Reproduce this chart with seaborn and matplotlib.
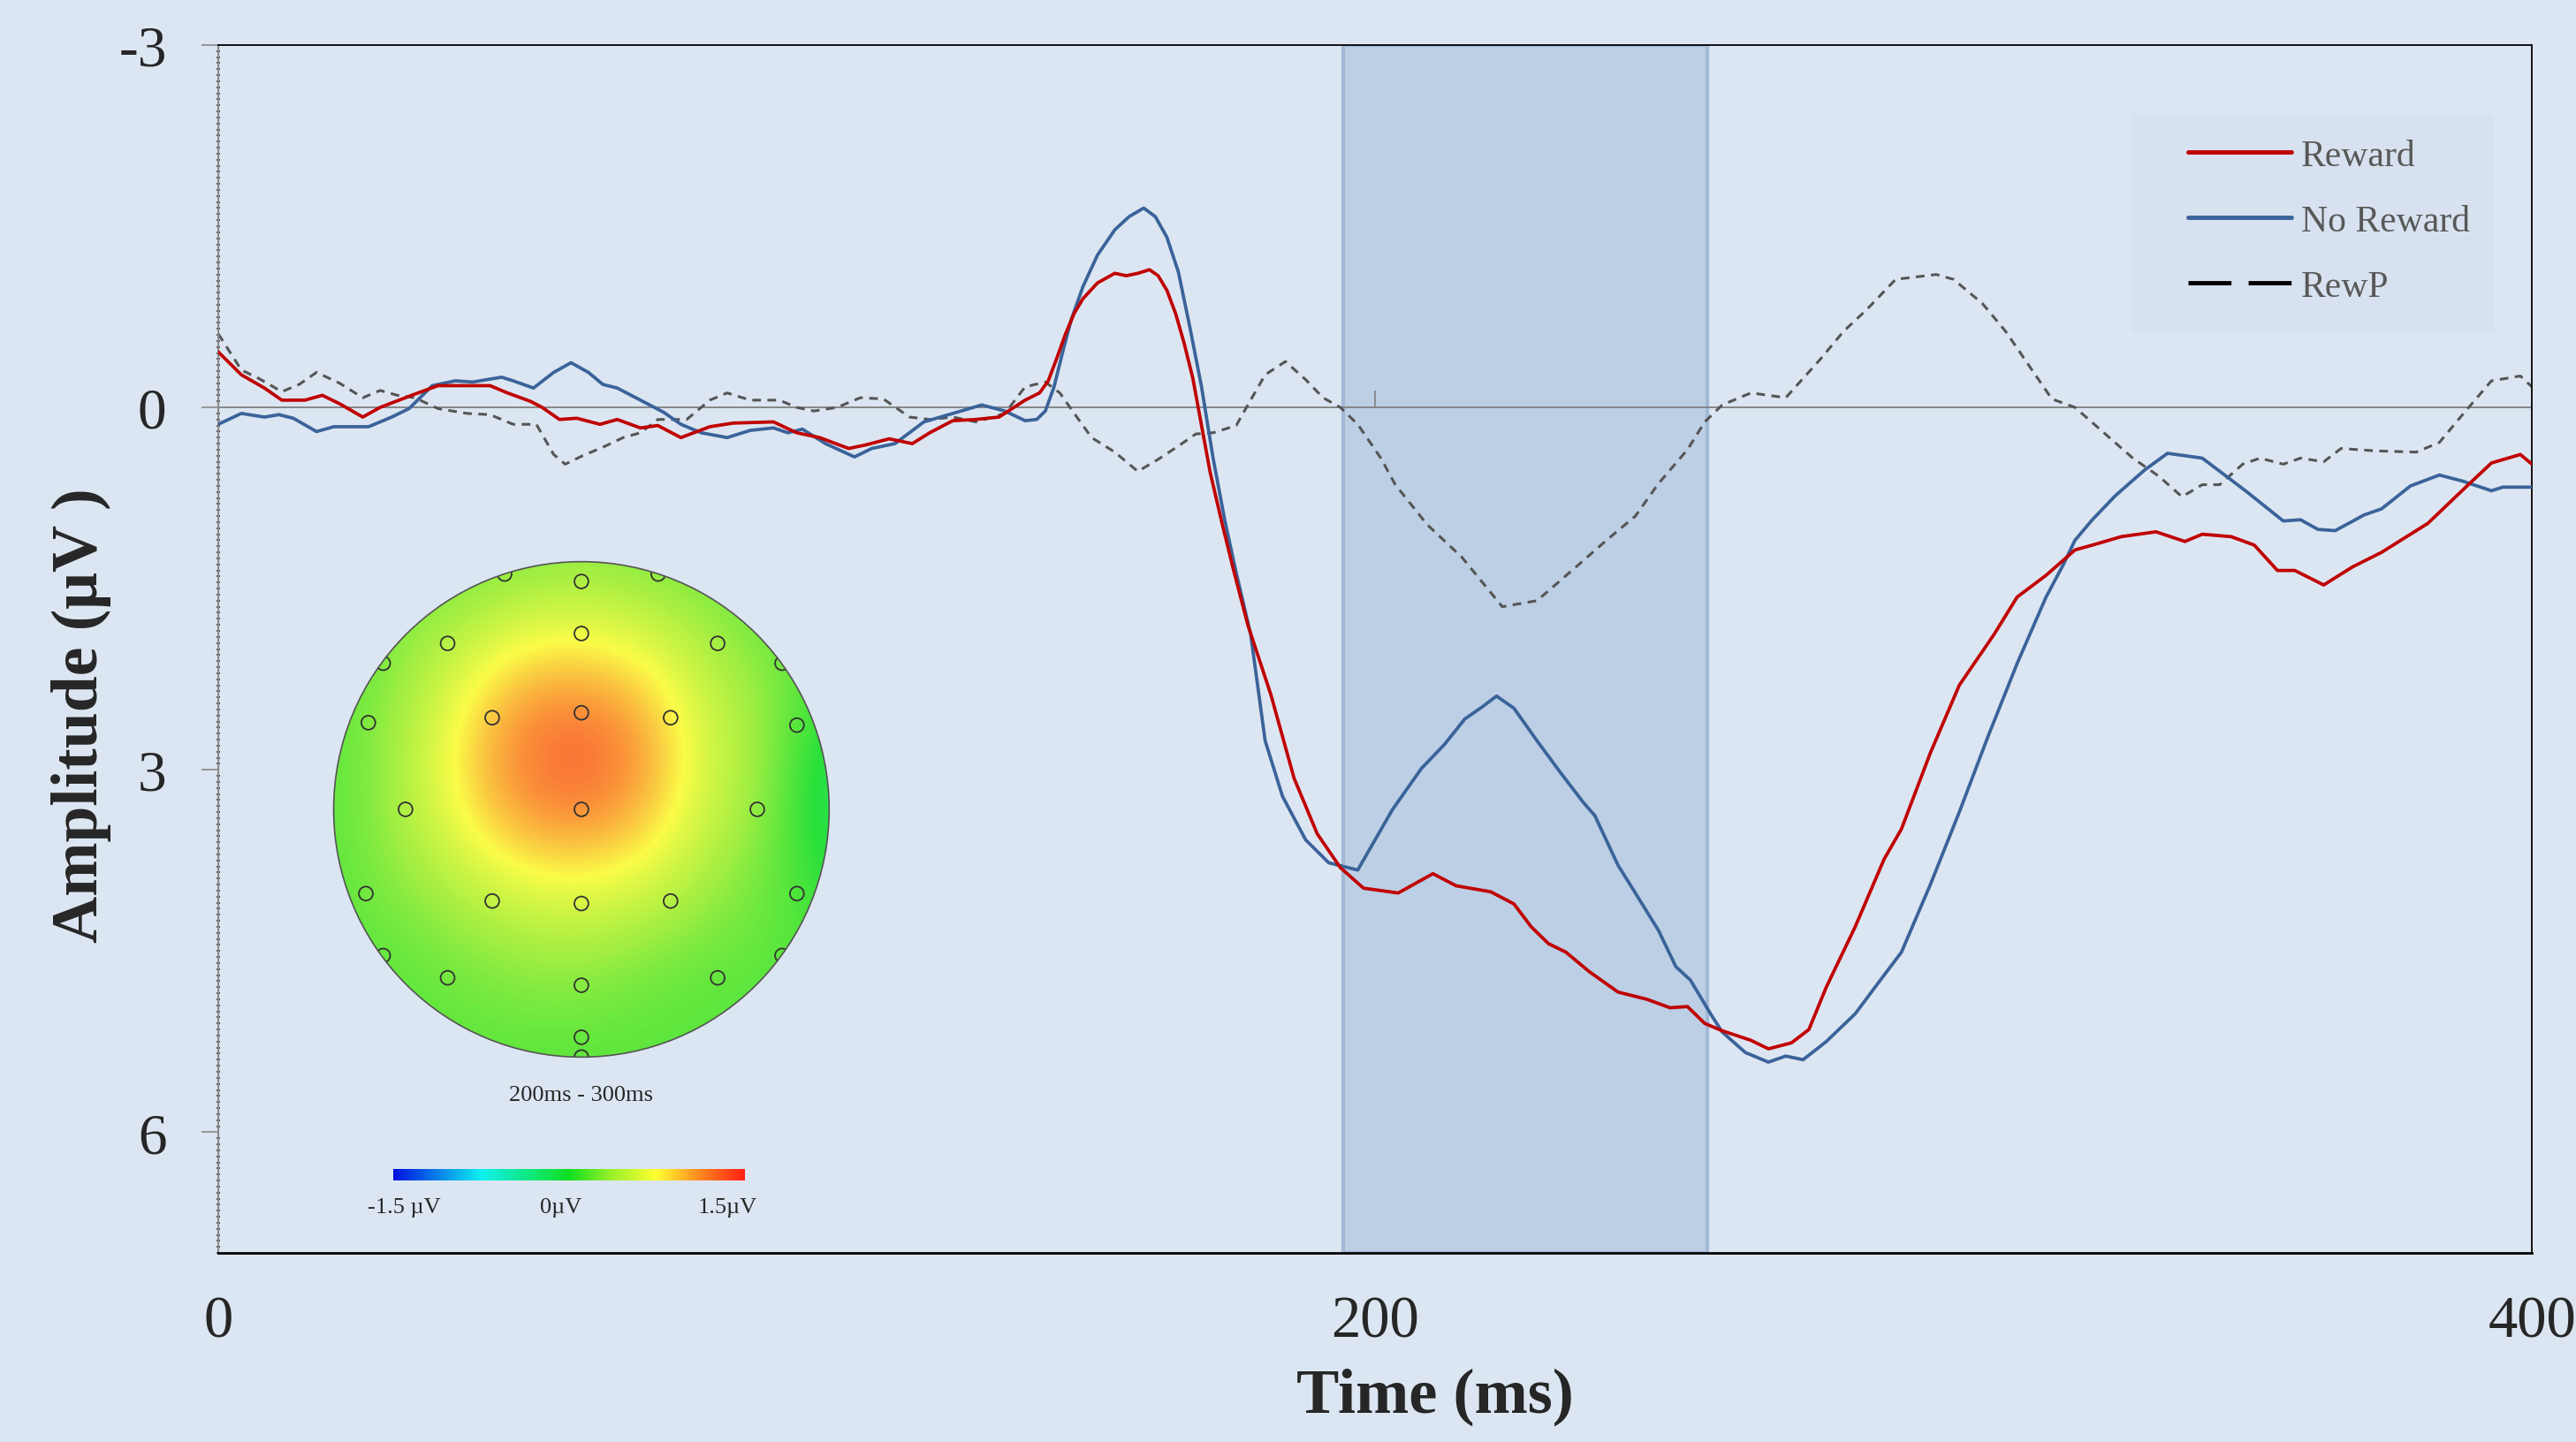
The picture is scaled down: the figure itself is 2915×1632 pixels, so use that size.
import numpy as np
import matplotlib
matplotlib.use("Agg")
import matplotlib.pyplot as plt
import matplotlib.ticker as mticker
from matplotlib.colors import LinearSegmentedColormap, Normalize
from matplotlib.cm import ScalarMappable
from matplotlib.lines import Line2D
from matplotlib.patches import Circle, Rectangle
import seaborn as sns

# ── Data ─────────────────────────────────────────────────────────────────
reward_t = [0, 4, 8, 11, 15, 18, 21, 25, 28, 34, 38, 43, 47, 50, 54, 56, 59, 62, 66, 69,
            73, 76, 80, 85, 89, 96, 100, 104, 109, 112, 116, 120, 123, 127, 131, 135, 139.5,
            142, 143.5, 145, 146.5, 148, 149.5, 152, 155, 157, 159, 161, 162.5, 164, 165.5,
            167, 168.5, 170, 171.5, 173.5, 175.5, 178, 182, 186, 190,
            194, 198, 204, 210, 214, 220, 224, 227, 230, 233, 237, 242, 247, 251, 254, 257,
            260, 265, 268, 272, 275, 278, 283, 288, 291, 296, 301, 304, 307, 311, 316, 321,
            324, 329, 335, 340, 343, 348, 352, 356, 359, 364, 369, 374, 382, 389, 393, 398, 400]
reward_uv = [-0.46, -0.27, -0.16, -0.06, -0.06, -0.10, -0.03, 0.08, 0.0, -0.11, -0.18, -0.18,
             -0.18, -0.12, -0.05, 0.0, 0.10, 0.09, 0.14, 0.10, 0.17, 0.15, 0.25, 0.16, 0.13,
             0.12, 0.21, 0.25, 0.34, 0.31, 0.26, 0.30, 0.21, 0.11, 0.10, 0.08, -0.06,
             -0.12, -0.22, -0.41, -0.61, -0.78, -0.90, -1.03, -1.11, -1.09, -1.11, -1.14, -1.09,
             -0.97, -0.78, -0.53, -0.24, 0.15, 0.54, 0.95, 1.34, 1.80,
             2.38, 3.07, 3.53, 3.81, 3.98, 4.02, 3.86, 3.96, 4.01, 4.11, 4.30, 4.44, 4.51,
             4.67, 4.84, 4.90, 4.97, 4.96, 5.10, 5.16, 5.24, 5.31, 5.26, 5.15, 4.80, 4.30,
             3.74, 3.49, 2.86, 2.30, 2.09, 1.88, 1.57, 1.39, 1.18, 1.14, 1.07, 1.03, 1.11,
             1.05, 1.07, 1.14, 1.35, 1.35, 1.47, 1.32, 1.20, 0.96, 0.64, 0.46, 0.39, 0.47]

noreward_t = [0, 4, 8, 10.5, 13, 17, 20, 26, 30, 33, 37, 41, 44, 49, 51, 54.5, 58, 61, 64,
              66.5, 69, 73, 77, 80, 83.5, 88, 92, 96, 98.5, 101, 105, 110, 113, 117, 122, 127,
              132, 136, 139.5, 141.5, 143, 144.5, 146, 147.5, 149.5, 152, 155, 157.5, 160, 162,
              164, 166, 168, 170, 172, 174, 176, 178.5, 181, 184, 188, 192, 197, 200, 203, 208,
              212, 215.5, 218.5, 221, 224, 228,
              232, 236, 238, 242, 245, 249, 252, 254.5, 258, 260, 264, 268, 271, 274, 278, 283,
              288, 291, 296, 301, 306, 311, 316, 319, 321, 324, 328, 333, 337, 343, 348, 351,
              357, 360, 363, 366, 371, 374, 379, 384, 388, 393, 395, 400]
noreward_uv = [0.14, 0.05, 0.08, 0.06, 0.09, 0.20, 0.16, 0.16, 0.08, 0.01, -0.18, -0.22, -0.21,
               -0.25, -0.22, -0.16, -0.29, -0.37, -0.29, -0.19, -0.16, -0.06, 0.04, 0.14, 0.21,
               0.25, 0.19, 0.17, 0.21, 0.18, 0.30, 0.41, 0.34, 0.30, 0.12, 0.05, -0.02, 0.03,
               0.11, 0.10, 0.03, -0.17, -0.46, -0.73, -1.00, -1.26, -1.47, -1.58, -1.65, -1.58,
               -1.41, -1.12, -0.66, -0.17, 0.42, 0.93, 1.37, 1.88, 2.76, 3.22, 3.58, 3.77, 3.83,
               3.58, 3.33, 2.99, 2.79, 2.58, 2.48,
               2.39, 2.49, 2.76, 3.02, 3.27, 3.38, 3.79, 4.02, 4.33, 4.63, 4.74, 5.02, 5.17,
               5.34, 5.42, 5.37, 5.40, 5.25, 5.02, 4.70, 4.51, 3.95, 3.35, 2.72, 2.12, 1.57,
               1.30, 1.10, 0.93, 0.73, 0.52, 0.38, 0.42, 0.60, 0.71, 0.94, 0.93, 1.01, 1.02,
               0.89, 0.84, 0.65, 0.56, 0.61, 0.69, 0.66, 0.66]

rewp_t = [0, 4, 7, 11, 14, 17, 21, 25, 28, 31, 34, 38, 43, 47, 51, 55, 58, 60, 63, 66.5, 70,
          73, 76, 81, 85, 88, 92, 97, 100, 103, 107, 111, 115, 119.5, 123, 127, 131, 136, 139.5,
          143, 145.5, 148, 151, 155, 159, 162.5, 166, 169, 172, 176, 178, 181, 184.5, 188, 191,
          194, 197, 201, 203.5, 206.5, 209, 215, 222, 228, 235, 240, 245, 249, 254, 257, 260,
          265, 268, 271, 277, 281, 285, 290, 297, 300, 305, 309, 313, 317, 321, 326, 331,
          335.5, 339.5, 343, 346, 350, 353, 357, 360, 364, 367, 373, 380, 384, 388, 393, 398, 400]
rewp_uv = [-0.61, -0.31, -0.24, -0.13, -0.19, -0.29, -0.20, -0.08, -0.14, -0.10, -0.08, 0.01,
           0.05, 0.06, 0.14, 0.14, 0.39, 0.47, 0.40, 0.33, 0.25, 0.21, 0.10, 0.10, -0.06, -0.12,
           -0.06, -0.06, 0.0, 0.03, 0.0, -0.08, -0.07, 0.08, 0.10, 0.08, 0.12, 0.05, -0.17,
           -0.21, -0.12, 0.05, 0.25, 0.37, 0.53, 0.43, 0.32, 0.22, 0.21, 0.15, -0.02, -0.27,
           -0.38, -0.23, -0.08, 0.0, 0.14, 0.42, 0.64, 0.82, 0.97, 1.24, 1.65, 1.60, 1.31, 1.10,
           0.90, 0.63, 0.35, 0.12, -0.02, -0.12, -0.10, -0.08, -0.40, -0.63, -0.81, -1.06,
           -1.10, -1.06, -0.86, -0.63, -0.35, -0.07, 0.0, 0.21, 0.42, 0.57, 0.74, 0.64, 0.64,
           0.47, 0.42, 0.47, 0.42, 0.45, 0.34, 0.36, 0.37, 0.29, 0.06, -0.22, -0.26, -0.17]

window_ms = [194.5, 257.5]          # shaded RewP window
x_ticks = [0, 200, 400]
y_ticks = [-3, 0, 3, 6]
legend_labels = ["Reward", "No Reward", "RewP"]

# scalp map, 9x9 grid from top (front) to bottom, left to right, in µV
scalp_grid = [
    [0.15, 0.15, 0.20, 0.25, 0.30, 0.25, 0.20, 0.15, 0.15],
    [0.15, 0.25, 0.40, 0.60, 0.65, 0.55, 0.35, 0.20, 0.10],
    [0.15, 0.30, 0.65, 1.00, 1.05, 0.90, 0.50, 0.30, 0.05],
    [0.15, 0.35, 0.80, 1.20, 1.35, 1.10, 0.60, 0.30, -0.10],
    [0.15, 0.35, 0.75, 1.10, 1.20, 1.00, 0.55, 0.28, -0.15],
    [0.15, 0.30, 0.50, 0.75, 0.80, 0.70, 0.40, 0.22, -0.05],
    [0.15, 0.20, 0.30, 0.40, 0.45, 0.35, 0.25, 0.18, 0.08],
    [0.15, 0.15, 0.20, 0.25, 0.25, 0.20, 0.15, 0.15, 0.10],
    [0.15, 0.15, 0.15, 0.15, 0.15, 0.15, 0.15, 0.15, 0.12],
]
electrode_x = [0, -0.31, 0.31, 0, -0.54, 0.55, -0.80, 0.81, 0, -0.36, 0.36, -0.86, 0.87,
               -0.71, 0, 0.71, -0.87, 0.87, -0.36, 0, 0.36, -0.80, 0.81, -0.54, 0.55, 0, 0, 0]
electrode_y = [-0.92, -0.95, -0.95, -0.71, -0.67, -0.67, -0.59, -0.59, -0.39, -0.37, -0.37,
               -0.35, -0.34, 0, 0, 0, 0.34, 0.34, 0.37, 0.38, 0.37, 0.59, 0.59, 0.68, 0.68,
               0.71, 0.92, 1.0]
cbar_labels = ["-1.5 µV", "0µV", "1.5µV"]
cbar_range = [-1.5, 1.5]

BG = "#DCE6F2"
RED = "#C00000"
BLUE = "#3A639A"
GREY = "#555555"

sns.set_theme(style="white")
plt.rcParams["font.family"] = ["Liberation Serif", "DejaVu Serif"]
plt.rcParams["axes.unicode_minus"] = False
plt.rcParams["lines.solid_joinstyle"] = "round"
plt.rcParams["lines.dash_joinstyle"] = "round"

fig = plt.figure(figsize=(29.15, 16.33), dpi=100, facecolor=BG)
ax = fig.add_axes([0.0847, 0.131, 0.8982, 0.8372])
ax.set_facecolor(BG)

# ── ERP waveforms ─────────────────────────────────────────────────────────
ax.axvspan(window_ms[0], window_ms[1], facecolor="#BCCFE4", edgecolor="#A2B9D5",
           linewidth=3, zorder=0.5)
ax.axhline(0, color="#808080", linewidth=1.3, zorder=1)
ax.vlines(200, -0.14, 0, color="#808080", linewidth=1.2, zorder=1)

sns.lineplot(x=rewp_t, y=rewp_uv, ax=ax, color=GREY, linewidth=2.2, estimator=None,
             zorder=2)
ax.lines[-1].set_dashes((3.2, 2.4))
sns.lineplot(x=noreward_t, y=noreward_uv, ax=ax, color=BLUE, linewidth=2.7,
             estimator=None, zorder=3)
sns.lineplot(x=reward_t, y=reward_uv, ax=ax, color=RED, linewidth=2.7,
             estimator=None, zorder=4)

ax.set_xlim(0, 400)
ax.set_ylim(7, -3)
ax.set_xticks(x_ticks)
ax.set_yticks(y_ticks)
ax.yaxis.set_minor_locator(mticker.MultipleLocator(0.05))
ax.tick_params(axis="x", length=0, pad=34, labelsize=48)
ax.tick_params(axis="y", which="major", length=14, width=1.2, color="#888888",
               pad=28, labelsize=47, left=True)
ax.tick_params(axis="y", which="minor", length=3, width=1.2, color="#333333",
               direction="inout", left=True)
for side in ["top", "right", "bottom"]:
    ax.spines[side].set_color("black")
    ax.spines[side].set_linewidth(1.3)
ax.spines["bottom"].set_linewidth(2)
ax.spines["left"].set_color("#888888")
ax.spines["left"].set_linewidth(1.5)
ax.grid(False)

ax.set_xlabel("Time (ms)", fontsize=52, fontweight="bold", va="center")
ax.set_ylabel("Amplitude (μV )", fontsize=53, fontweight="bold", va="center")
ax.xaxis.set_label_coords(0.526, -0.119)
ax.yaxis.set_label_coords(-0.059, 0.446)

# legend: pale box behind a frameless legend
ax.add_patch(Rectangle((0.8274, 0.7622), 0.1562, 0.1808, transform=ax.transAxes,
                       facecolor="#D8E1EF", edgecolor="none", zorder=5))
handles = [Line2D([], [], color=RED, lw=3.5),
           Line2D([], [], color=BLUE, lw=3.5),
           Line2D([], [], color="black", lw=3.5, dashes=(10, 4))]
leg = ax.legend(handles, legend_labels, loc="upper left",
                bbox_to_anchor=(0.8514, 0.922), fontsize=30, frameon=False,
                handlelength=2.8, handletextpad=0.27, labelspacing=0.85,
                borderpad=0, borderaxespad=0)
leg.set_zorder(6)
for txt in leg.get_texts():
    txt.set_color("#585858")

# ── Scalp topography inset ───────────────────────────────────────────────
jet_like = LinearSegmentedColormap.from_list(
    "scalp", [(0.0, "#0010E0"), (0.25, "#10F0F0"), (0.5, "#10E020"), (0.62, "#9AF02A"),
              (0.75, "#FFFF30"), (0.87, "#FF8A20"), (1.0, "#FF2015")])
norm = Normalize(*cbar_range)

tax = fig.add_axes([0.1276, 0.2633, 0.1962, 0.3503])
tax.set_xlim(-1.02, 1.02)
tax.set_ylim(1.02, -1.02)
tax.axis("off")
head = Circle((0, 0), 1, transform=tax.transData, facecolor="none",
              edgecolor="#555555", linewidth=1.2, zorder=3)
img = tax.imshow(np.array(scalp_grid), cmap=jet_like, norm=norm, interpolation="bicubic",
                 extent=(-1.125, 1.125, 1.125, -1.125), alpha=0.88, zorder=1)
img.set_clip_path(head)
tax.add_patch(head)
pts = tax.scatter(electrode_x, electrode_y, s=130, facecolors="none",
                  edgecolors="#333333", linewidths=1.3, zorder=2)
pts.set_clip_path(head)
fig.text(658 / 2915, 1 - 1240 / 1633, "200ms - 300ms", ha="center", va="center",
         fontsize=19)

# colour scale
cax = fig.add_axes([445 / 2915, 1 - 1337 / 1633, 398 / 2915, 13 / 1633])
cb = fig.colorbar(ScalarMappable(norm=norm, cmap=jet_like), cax=cax,
                  orientation="horizontal")
cb.set_ticks([])
cb.outline.set_visible(False)
for xpos, lab in zip([457, 635, 823], cbar_labels):
    fig.text(xpos / 2915, 1 - 1367 / 1633, lab, ha="center", va="center", fontsize=19)

fig.savefig("out.png", dpi=100, facecolor=BG)
